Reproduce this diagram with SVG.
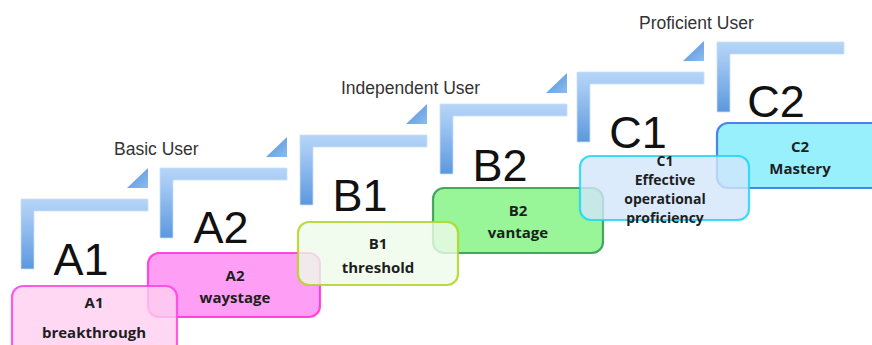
<svg xmlns="http://www.w3.org/2000/svg" width="872" height="345" viewBox="0 0 872 345">
  <defs>
    <linearGradient id="stepFill" x1="0" y1="0" x2="0" y2="1">
      <stop offset="0" stop-color="#b6d5f8"/>
      <stop offset="0.25" stop-color="#a3c8f3"/>
      <stop offset="1" stop-color="#5b98de"/>
    </linearGradient>
    <linearGradient id="tipFill" x1="0" y1="0" x2="1" y2="1">
      <stop offset="0" stop-color="#4f8fdb"/>
      <stop offset="1" stop-color="#8dbcf0"/>
    </linearGradient>
    <path id="step" d="M0,0 h127 v12 h-114 v58 h-13 z"/>
    <path id="tip" d="M106,-11 h21 v-20 z"/>
  </defs>
  <style>
    .step { fill: url(#stepFill); stroke: #c9e0fa; stroke-width: 0.8; }
    .tip { fill: url(#tipFill); }
    .level { font-family: "Liberation Sans", Arial, sans-serif; font-size: 45px; fill: #111; text-anchor: middle; }
    .band { font-family: "Liberation Sans", Arial, sans-serif; font-size: 17.5px; fill: #333; }
    .box rect { stroke-width: 2.2; fill-opacity: 0.8; stroke-opacity: 0.85; }
    .box text { font-family: "Open Sans", "Liberation Sans", sans-serif; font-weight: bold; font-size: 15px; fill: #1e1e1e; text-anchor: middle; }
    #boxC1 text { font-size: 14px; }
  </style>

  <!-- stair steps -->
  <g id="steps">
    <g transform="translate(21,199)"><use href="#step" class="step"/><use href="#tip" class="tip"/></g>
    <g transform="translate(160,168)"><use href="#step" class="step"/><use href="#tip" class="tip"/></g>
    <g transform="translate(300,135)"><use href="#step" class="step"/><use href="#tip" class="tip"/></g>
    <g transform="translate(440,104)"><use href="#step" class="step"/><use href="#tip" class="tip"/></g>
    <g transform="translate(577,72)"><use href="#step" class="step"/><use href="#tip" class="tip"/></g>
    <g transform="translate(717,42)"><use href="#step" class="step"/></g>
  </g>

  <!-- user bands -->
  <g id="bands">
    <text class="band" x="114" y="155">Basic User</text>
    <text class="band" x="341" y="94">Independent User</text>
    <text class="band" x="639" y="29">Proficient User</text>
  </g>

  <!-- level headings -->
  <g id="levels">
    <text class="level" x="81" y="275">A1</text>
    <text class="level" x="221" y="243">A2</text>
    <text class="level" x="360" y="211">B1</text>
    <text class="level" x="500" y="181">B2</text>
    <text class="level" x="638" y="148">C1</text>
    <text class="level" x="776" y="117">C2</text>
  </g>

  <!-- descriptor boxes -->
  <g id="boxA2" class="box">
    <rect x="148" y="253" width="172" height="64" rx="11" fill="#ff86f2" stroke="#ff2fd0"/>
    <text x="235" y="281">A2</text>
    <text x="235" y="303">waystage</text>
  </g>
  <g id="boxA1" class="box">
    <rect x="12" y="286" width="165" height="72" rx="11" fill="#ffd0f0" stroke="#ff3fe0"/>
    <text x="94" y="308">A1</text>
    <text x="94" y="338">breakthrough</text>
  </g>
  <g id="boxB2" class="box">
    <rect x="433" y="188" width="170" height="65" rx="11" fill="#7ef27e" stroke="#2e9650"/>
    <text x="518" y="216">B2</text>
    <text x="518" y="238">vantage</text>
  </g>
  <g id="boxB1" class="box">
    <rect x="298" y="222" width="160" height="63" rx="11" fill="#eefbea" stroke="#b2d41e"/>
    <text x="378" y="249">B1</text>
    <text x="378" y="273">threshold</text>
  </g>
  <g id="boxC2" class="box">
    <rect x="717" y="123" width="170" height="65" rx="11" fill="#7eecfc" stroke="#2f70ee"/>
    <text x="800" y="152">C2</text>
    <text x="800" y="174">Mastery</text>
  </g>
  <g id="boxC1" class="box">
    <rect x="580" y="156" width="169" height="64" rx="11" fill="#d2e6fb" stroke="#1cd6f4"/>
    <text x="665" y="166">C1</text>
    <text x="665" y="185">Effective</text>
    <text x="665" y="204">operational</text>
    <text x="665" y="223">proficiency</text>
  </g>
</svg>
